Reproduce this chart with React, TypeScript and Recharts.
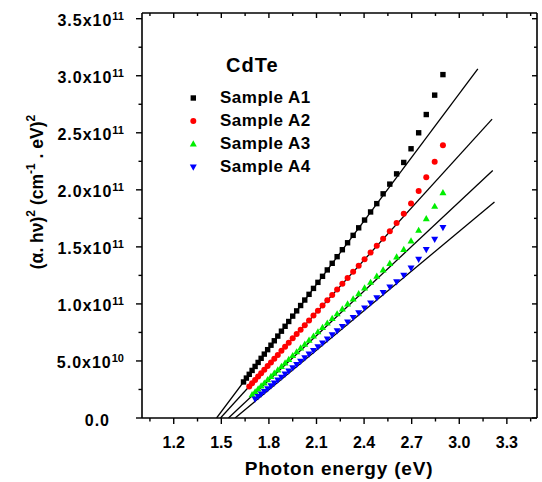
import React from 'react'
import { ComposedChart, Scatter, Line, XAxis, YAxis, Legend } from 'recharts'

// photon energy grid (eV)
const energy = [
  1.640, 1.658, 1.676, 1.694, 1.713, 1.732, 1.751, 1.771, 1.792, 1.813, 1.834, 1.856, 1.879, 1.902,
  1.925, 1.950, 1.975, 2.000, 2.026, 2.053, 2.081, 2.109, 2.138, 2.168, 2.199, 2.230, 2.263, 2.296,
  2.331, 2.366, 2.403, 2.441, 2.480, 2.520, 2.562, 2.605, 2.650, 2.696, 2.744, 2.792, 2.845, 2.897,
]

// (alpha h nu)^2 in units of 1e11, each series ends at the last energy
const sampleA1 = [
  0.316, 0.35, 0.383, 0.417, 0.452, 0.487, 0.523, 0.56, 0.599, 0.638, 0.677, 0.718, 0.761, 0.804,
  0.846, 0.893, 0.939, 0.986, 1.034, 1.084, 1.136, 1.189, 1.242, 1.298, 1.356, 1.414, 1.475, 1.536,
  1.601, 1.667, 1.735, 1.806, 1.879, 1.965, 2.05, 2.14, 2.24, 2.36, 2.5, 2.66, 2.83, 3.01,
]
const sampleA2 = [
  0.277, 0.305, 0.334, 0.363, 0.392, 0.423, 0.455, 0.487, 0.52, 0.553, 0.589, 0.624, 0.659, 0.698,
  0.736, 0.774, 0.814, 0.855, 0.898, 0.941, 0.986, 1.032, 1.079, 1.127, 1.177, 1.228, 1.282, 1.335,
  1.392, 1.45, 1.51, 1.571, 1.636, 1.709, 1.79, 1.88, 1.99, 2.11, 2.246, 2.39,
]
const sampleA3 = [
  0.204, 0.229, 0.254, 0.28, 0.306, 0.336, 0.364, 0.392, 0.421, 0.452, 0.483, 0.513, 0.547, 0.58,
  0.613, 0.647, 0.682, 0.718, 0.755, 0.793, 0.832, 0.872, 0.913, 0.956, 0.999, 1.044, 1.09, 1.14,
  1.189, 1.243, 1.297, 1.355, 1.412, 1.477, 1.551, 1.645, 1.747, 1.855, 1.975,
]
const sampleA4 = [
  0.166, 0.188, 0.21, 0.233, 0.257, 0.282, 0.306, 0.332, 0.358, 0.385, 0.411, 0.44, 0.469, 0.498,
  0.528, 0.56, 0.592, 0.624, 0.658, 0.693, 0.729, 0.765, 0.803, 0.841, 0.882, 0.922, 0.965, 1.009,
  1.054, 1.1, 1.149, 1.194, 1.251, 1.315, 1.391, 1.476, 1.566, 1.67,
]

// linear fits: x-intercept and upper end
const fitStartX = [1.47, 1.495, 1.545, 1.587]
const fitEndX = [3.117, 3.207, 3.211, 3.222]
const fitEndY = [3.06, 2.62, 2.17, 1.893]

const seriesNames = ['Sample A1', 'Sample A2', 'Sample A3', 'Sample A4']
const seriesColors = ['#000000', '#ff0000', '#00ee00', '#0000ff']
const seriesShapes = ['square', 'circle', 'up', 'down']

const xMajorTicks = [1.2, 1.5, 1.8, 2.1, 2.4, 2.7, 3.0, 3.3]
const xMinorTicks = [1.05, 1.35, 1.65, 1.95, 2.25, 2.55, 2.85, 3.15, 3.45]
const yMajorTicks = [0, 0.5, 1, 1.5, 2, 2.5, 3, 3.5]
const yMinorTicks = [0.25, 0.75, 1.25, 1.75, 2.25, 2.75, 3.25]
const yTickMantissa = ['0.0', '5.0x10', '1.0x10', '1.5x10', '2.0x10', '2.5x10', '3.0x10', '3.5x10']
const yTickExponent = ['', '10', '11', '11', '11', '11', '11', '11']

const FONT = '"Liberation Sans", Arial, sans-serif'

const toRows = (ys: number[]) =>
  ys.map((y, i) => ({ x: energy[energy.length - ys.length + i], y }))

const allSamples = [sampleA1, sampleA2, sampleA3, sampleA4].map(toRows)
const fits = fitStartX.map((x0, i) => [
  { x: x0, y: 0 },
  { x: fitEndX[i], y: fitEndY[i] },
])

const xTicks = [...xMinorTicks, ...xMajorTicks].sort((a, b) => a - b)
const yTicks = [...yMinorTicks, ...yMajorTicks].sort((a, b) => a - b)

function Marker({ kind, cx, cy, color }: any) {
  if (kind === 'square') return <rect x={cx - 2.7} y={cy - 2.7} width={5.4} height={5.4} fill={color} />
  if (kind === 'circle') return <circle cx={cx} cy={cy} r={3} fill={color} />
  if (kind === 'up')
    return <polygon points={`${cx},${cy - 3.7} ${cx - 3.5},${cy + 2.5} ${cx + 3.5},${cy + 2.5}`} fill={color} />
  return <polygon points={`${cx},${cy + 3.7} ${cx - 3.5},${cy - 2.5} ${cx + 3.5},${cy - 2.5}`} fill={color} />
}

const BottomTick = ({ x, y, payload }: any) => {
  const major = xMajorTicks.includes(payload.value)
  return (
    <g>
      <line x1={x} y1={y} x2={x} y2={y + (major ? 6 : 3.5)} stroke="#000" strokeWidth={1.4} />
      {major && (
        <text x={x} y={y + 30} textAnchor="middle" fontSize={16} fontWeight="bold" fontFamily={FONT} fill="#000">
          {payload.value.toFixed(1)}
        </text>
      )}
    </g>
  )
}

const TopTick = ({ x, y, payload }: any) => {
  const major = xMajorTicks.includes(payload.value)
  return <line x1={x} y1={y} x2={x} y2={y + (major ? 5 : 3)} stroke="#000" strokeWidth={1.4} />
}

const LeftTick = (props: any) => {
  const { x, y, payload } = props
  const idx = yMajorTicks.indexOf(payload.value)
  const major = idx >= 0
  const exp = major ? yTickExponent[idx] : ''
  const axisX = Number(x)
  return (
    <g>
      <line x1={axisX} y1={y} x2={axisX - (major ? 6 : 3.5)} y2={y} stroke="#000" strokeWidth={1.4} />
      {major && (
        <text
          x={exp ? axisX - 18 : axisX - 32}
          y={Number(y) + 7.5}
          textAnchor="end"
          fontSize={16}
          fontWeight="bold"
          fontFamily={FONT}
          fill="#000"
        >
          <tspan letterSpacing={1}>{yTickMantissa[idx]}</tspan>
          {exp ? (
            <tspan dy={-6.5} fontSize={11}>
              {exp}
            </tspan>
          ) : null}
        </text>
      )}
    </g>
  )
}

const RightTick = ({ x, y, payload }: any) => {
  const major = yMajorTicks.includes(payload.value)
  return <line x1={x} y1={y} x2={x - (major ? 5 : 3)} y2={y} stroke="#000" strokeWidth={1.4} />
}

const YTitle = () => (
  <text
    transform="translate(43,192) rotate(-90)"
    textAnchor="middle"
    fontSize={17.5}
    fontWeight="bold"
    fontFamily={FONT}
    fill="#000"
  >
    <tspan>(α. hν)</tspan>
    <tspan dy={-8} fontSize={12}>2</tspan>
    <tspan dy={8}> (cm</tspan>
    <tspan dy={-8} fontSize={12}>-1</tspan>
    <tspan dy={8}> . eV)</tspan>
    <tspan dy={-8} fontSize={12}>2</tspan>
  </text>
)

const XTitle = () => (
  <text x={339} y={475} textAnchor="middle" fontSize={19} fontWeight="bold" fontFamily={FONT} fill="#000" letterSpacing={0.8}>
    Photon energy (eV)
  </text>
)

const renderLegend = () => (
  <div style={{ position: 'relative', width: 200, height: 140, fontFamily: FONT, fontWeight: 'bold', color: '#000' }}>
    <div style={{ position: 'absolute', left: 46, top: 3, fontSize: 20, lineHeight: '24px', letterSpacing: 1 }}>CdTe</div>
    {seriesNames.map((name, i) => (
      <div
        key={name}
        style={{ position: 'absolute', left: 0, top: 37.5 + i * 23.3, height: 20, display: 'flex', alignItems: 'center' }}
      >
        <svg width={40} height={20} style={{ display: 'block' }}>
          <Marker kind={seriesShapes[i]} cx={13.3} cy={10} color={seriesColors[i]} />
        </svg>
        <span style={{ fontSize: 17, letterSpacing: 0.5, lineHeight: '20px' }}>{name}</span>
      </div>
    ))}
  </div>
)

export default function App() {
  return (
    <div style={{ position: 'absolute', left: 0, top: 0, width: 542, height: 482, background: '#fff' }}>
      <ComposedChart width={542} height={482} margin={{ top: 12, right: 4, bottom: 0, left: 0 }}>
        <XAxis
          xAxisId="bottom"
          dataKey="x"
          type="number"
          domain={[1.0, 3.49]}
          ticks={xTicks}
          interval={0}
          height={64}
          tickSize={0}
          tickMargin={0}
          tickLine={false}
          tick={<BottomTick />}
          axisLine={{ stroke: '#000', strokeWidth: 1.6 }}
          allowDataOverflow
          label={<XTitle />}
        />
        <XAxis
          xAxisId="top"
          orientation="top"
          dataKey="x"
          type="number"
          domain={[1.0, 3.49]}
          ticks={xTicks}
          interval={0}
          height={1}
          tickSize={0}
          tickMargin={0}
          tickLine={false}
          tick={<TopTick />}
          axisLine={{ stroke: '#000', strokeWidth: 1.6 }}
          allowDataOverflow
        />
        <YAxis
          yAxisId="left"
          type="number"
          domain={[0, 3.55]}
          ticks={yTicks}
          interval={0}
          width={142}
          tickSize={0}
          tickMargin={0}
          tickLine={false}
          tick={<LeftTick />}
          axisLine={{ stroke: '#000', strokeWidth: 1.6 }}
          allowDataOverflow
          label={<YTitle />}
        />
        <YAxis
          yAxisId="right"
          orientation="right"
          type="number"
          domain={[0, 3.55]}
          ticks={yTicks}
          interval={0}
          width={1}
          tickSize={0}
          tickMargin={0}
          tickLine={false}
          tick={<RightTick />}
          axisLine={{ stroke: '#000', strokeWidth: 1.6 }}
          allowDataOverflow
        />
        {fits.map((fit, i) => (
          <Line
            key={'fit' + i}
            xAxisId="bottom"
            yAxisId="left"
            data={fit}
            dataKey="y"
            stroke="#000"
            strokeWidth={1.3}
            dot={false}
            activeDot={false}
            legendType="none"
            isAnimationActive={false}
          />
        ))}
        {/* invisible series so the mirrored frame axes get drawn */}
        <Line
          xAxisId="top"
          yAxisId="right"
          data={fits[0]}
          dataKey="y"
          stroke="none"
          dot={false}
          activeDot={false}
          legendType="none"
          isAnimationActive={false}
        />
        {allSamples.map((rows, i) => (
          <Scatter
            key={seriesNames[i]}
            name={seriesNames[i]}
            xAxisId="bottom"
            yAxisId="left"
            data={rows}
            dataKey="y"
            fill={seriesColors[i]}
            shape={(p: any) => <Marker kind={seriesShapes[i]} cx={p.cx} cy={p.cy} color={seriesColors[i]} />}
            isAnimationActive={false}
          />
        ))}
        <Legend
          layout="vertical"
          align="center"
          verticalAlign="middle"
          content={renderLegend}
          wrapperStyle={{ left: 180, top: 50, width: 200, height: 140 }}
        />
      </ComposedChart>
    </div>
  )
}
